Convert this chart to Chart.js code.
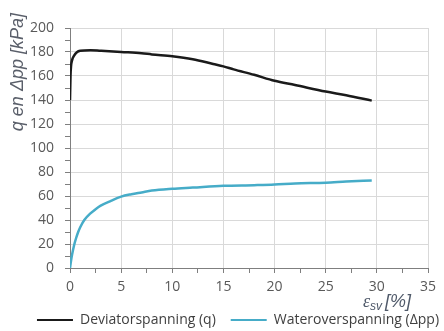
<!DOCTYPE html>
<html>
<head>
<meta charset="utf-8">
<script src="https://cdn.jsdelivr.net/npm/chart.js@4"></script>
<style>
  html, body { margin: 0; padding: 0; background: #fff; }
  #box { width: 444px; height: 331px; }
</style>
</head>
<body>
<div id="box"><canvas id="grafico"></canvas></div>
<script>
// deviatorspanning q [kPa] tegen rek
var rekDeviator = [0, 0.05, 0.1, 0.2, 0.4, 0.7, 1, 2, 3, 5, 7, 8, 10, 12, 14, 15, 16, 18, 20, 22, 25, 27, 29.5];
var qDeviator = [140, 160, 168, 173, 177, 180, 181, 181.5, 181, 180, 179, 178, 176.5, 174, 170, 168, 165.5, 161, 156, 152.5, 147, 144, 139.5];

// wateroverspanning dpp [kPa] tegen rek
var rekWater = [0, 0.1, 0.2, 0.4, 0.6, 0.8, 1, 1.4, 2, 2.5, 3, 4, 5, 6, 7, 8, 10, 12, 15, 18, 20, 22, 25, 27, 29.5];
var ppWater = [0, 6, 11, 19, 25, 30, 34, 40, 45.5, 49, 52, 56, 59.5, 61.5, 63, 64.5, 66, 67, 68.5, 69, 69.5, 70.5, 71, 72, 73];

var legendaNamen = ['Deviatorspanning (q)   ', 'Wateroverspanning (\u0394pp)'];
var kleurQ = '#1a1a1a';
var kleurPP = '#46acc8';

function punten(xs, ys) {
    var out = [];
    for (var i = 0; i < xs.length; i++) {
        out.push({x: xs[i], y: ys[i]});
    }
    return out;
}

// titels van de assen zelf tekenen (subscript bij epsilon)
var asTitels = {
    id: 'asTitels',
    afterLayout: function (chart) {
        // legenda iets naar rechts en omlaag, zoals in Excel
        chart.legend.left += 24;
        chart.legend.right += 24;
        chart.legend.top += 6;
        chart.legend.bottom += 6;
    },
    afterDraw: function (chart) {
        var ctx = chart.ctx;
        ctx.save();
        // y-as
        ctx.fillStyle = '#5a5f6a';
        ctx.font = 'italic 18px "Liberation Sans"';
        ctx.textAlign = 'right';
        ctx.textBaseline = 'middle';
        ctx.translate(18, 13);
        ctx.rotate(-Math.PI / 2);
        ctx.fillText('q en \u0394pp [kPa]', 0, 0);
        ctx.restore();

        // x-as
        ctx.save();
        ctx.fillStyle = '#505a6a';
        ctx.textBaseline = 'alphabetic';
        ctx.textAlign = 'left';
        var x = 363, y = 307;
        ctx.font = 'italic 18px "Liberation Serif"';
        ctx.fillText('\u03b5', x, y);
        x += ctx.measureText('\u03b5').width;
        ctx.font = 'italic 12px "Liberation Sans"';
        ctx.fillText('sv', x, y + 3);
        x += ctx.measureText('sv').width + 3;
        ctx.font = 'italic 18px "Liberation Sans"';
        ctx.fillText('[%]', x, y);
        ctx.restore();
    }
};

var ctx = document.getElementById('grafico');
var chart = new Chart(ctx, {
    type: 'scatter',
    data: {
        datasets: [{
            label: legendaNamen[0],
            data: punten(rekDeviator, qDeviator),
            showLine: true,
            borderColor: kleurQ,
            backgroundColor: kleurQ,
            borderWidth: 2.5,
            pointRadius: 0,
            cubicInterpolationMode: 'monotone'
        }, {
            label: legendaNamen[1],
            data: punten(rekWater, ppWater),
            showLine: true,
            borderColor: kleurPP,
            backgroundColor: kleurPP,
            borderWidth: 2.5,
            pointRadius: 0,
            cubicInterpolationMode: 'monotone'
        }]
    },
    options: {
        responsive: true,
        maintainAspectRatio: false,
        animation: false,
        layout: { padding: { left: 0, right: 16, top: 28, bottom: 0 } },
        plugins: {
            tooltip: { enabled: false },
            legend: {
                position: 'bottom',
                labels: {
                    boxWidth: 36,
                    boxHeight: 2,
                    padding: 4,
                    color: '#404040',
                    font: { family: 'Open Sans', size: 14 },
                    generateLabels: function (chart) {
                        var items = Chart.defaults.plugins.legend.labels.generateLabels(chart);
                        items.forEach(function (it) { it.lineWidth = 0; });
                        return items;
                    }
                }
            }
        },
        scales: {
            x: {
                type: 'linear',
                min: 0,
                max: 35,
                afterFit: function (scale) { scale.height = 35; },
                border: { color: '#7f7f7f' },
                grid: {
                    color: function (c) { return c.tick && c.tick.value % 5 === 0 ? '#d9d9d9' : 'rgba(0,0,0,0)'; },
                    tickColor: '#7f7f7f',
                    tickLength: 5
                },
                ticks: {
                    stepSize: 2.5,
                    autoSkip: false,
                    maxRotation: 0,
                    padding: 6,
                    color: '#595959',
                    font: { family: 'Open Sans', size: 14 },
                    callback: function (v) { return v % 5 === 0 ? v : ''; }
                }
            },
            y: {
                min: 0,
                max: 200,
                afterFit: function (scale) { scale.width = 70; },
                border: { color: '#7f7f7f' },
                grid: {
                    color: function (c) { return c.tick && c.tick.value % 20 === 0 ? '#d9d9d9' : 'rgba(0,0,0,0)'; },
                    tickColor: '#7f7f7f',
                    tickLength: 5
                },
                ticks: {
                    stepSize: 10,
                    autoSkip: false,
                    padding: 11,
                    color: '#595959',
                    font: { family: 'Open Sans', size: 14 },
                    callback: function (v) { return v % 20 === 0 ? v : ''; }
                }
            }
        }
    },
    plugins: [asTitels]
});
</script>
</body>
</html>
